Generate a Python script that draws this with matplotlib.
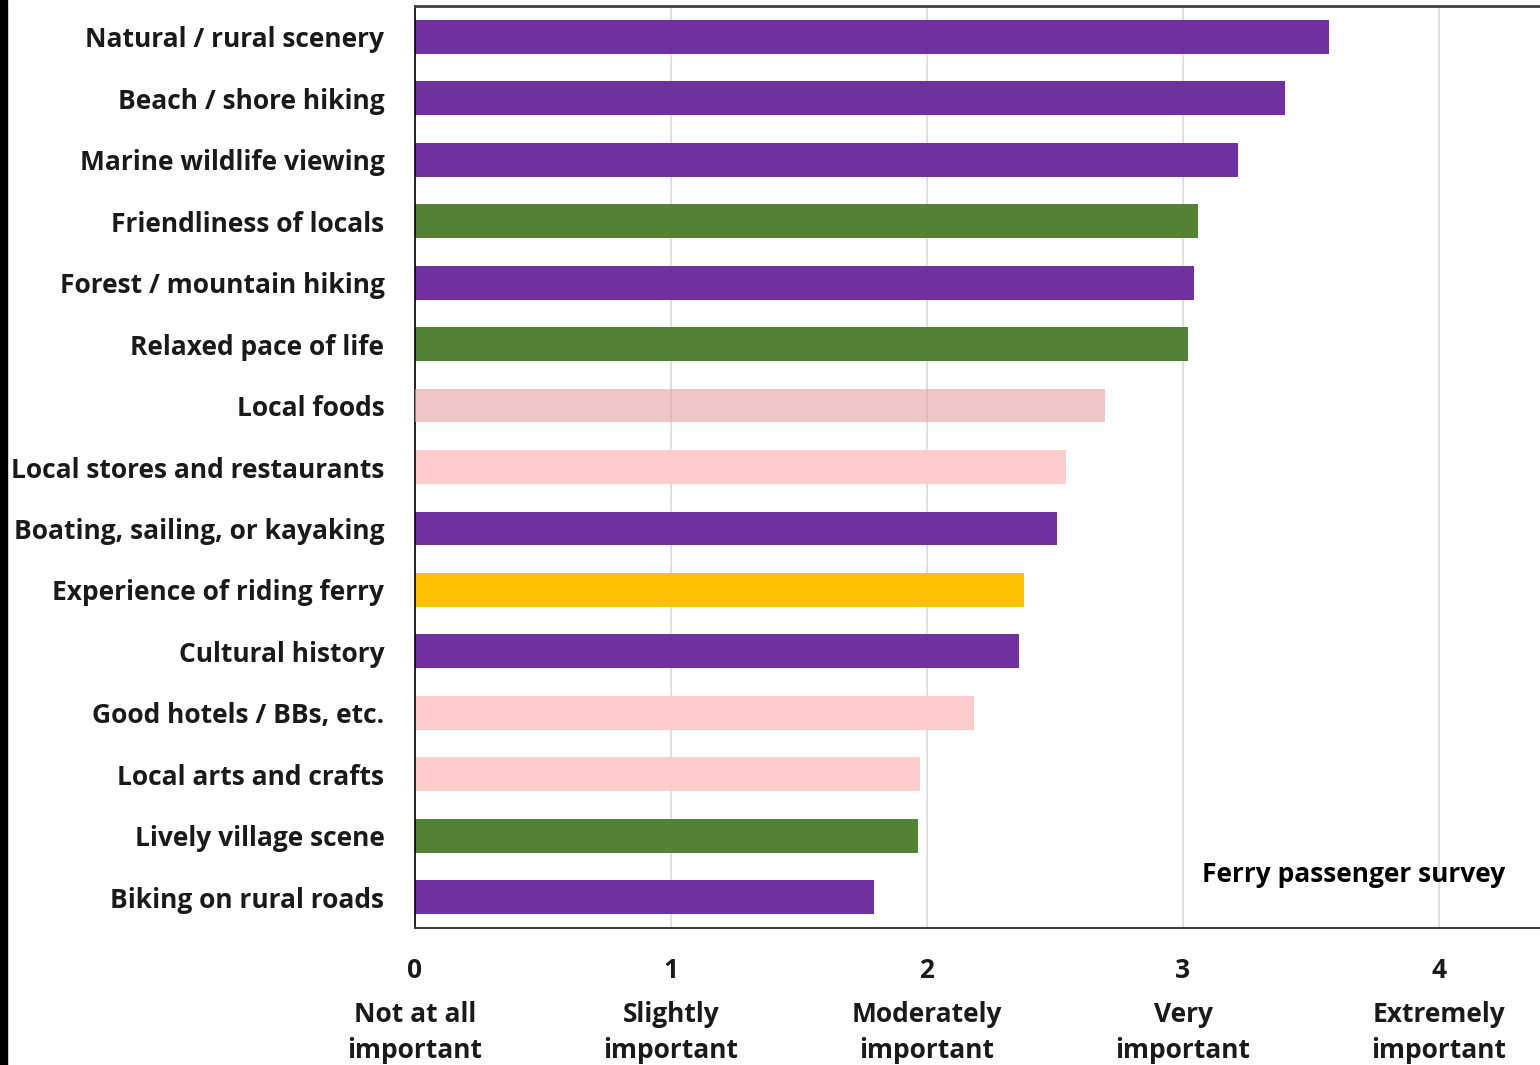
import matplotlib.pyplot as plt
from matplotlib.patches import Rectangle
from matplotlib.transforms import blended_transform_factory

categories = [
    "Natural / rural scenery", "Beach / shore hiking", "Marine wildlife viewing",
    "Friendliness of locals", "Forest / mountain hiking", "Relaxed pace of life",
    "Local foods", "Local stores and restaurants", "Boating, sailing, or kayaking",
    "Experience of riding ferry", "Cultural history", "Good hotels / BBs, etc.",
    "Local arts and crafts", "Lively village scene", "Biking on rural roads",
]
values = [3.57, 3.40, 3.215, 3.06, 3.043, 3.02, 2.695, 2.543, 2.508,
          2.379, 2.359, 2.184, 1.973, 1.965, 1.793]
groups = ["nature", "nature", "nature", "community", "nature", "community",
          "food", "service", "nature", "ferry", "nature", "service",
          "service", "community", "nature"]

tick_vals = [0, 1, 2, 3, 4]
tick_names = ["Not at all\nimportant", "Slightly\nimportant", "Moderately\nimportant",
              "Very\nimportant", "Extremely\nimportant"]

colors = {"nature": "#7030A0", "community": "#538135", "ferry": "#FFC000",
          "service": "#FFCCCC", "food": "#E8A6AB"}

plt.rcParams['font.family'] = ['Open Sans', 'DejaVu Sans']
FS = 19

fig = plt.figure(figsize=(15.4, 10.65), dpi=100)
ax = fig.add_axes([415 / 1540, 1 - 928 / 1065, 1 - 415 / 1540, (928 - 6) / 1065])

# dark strip at left edge of the picture
fig.patches.append(Rectangle((0, 0), 7 / 1540, 1, transform=fig.transFigure,
                             color="black", zorder=10))

ypos = list(range(len(categories)))
for y, v, g in zip(ypos, values, groups):
    alpha = 0.65 if g == "food" else 1.0
    ax.barh(y, v, height=0.55, color=colors[g], alpha=alpha, zorder=2 if g != "food" else 3)

ax.set_ylim(len(categories) - 0.5, -0.5)
ax.set_xlim(0, (1540 - 415) / 256)

ax.set_yticks(ypos)
ax.set_yticklabels(categories, fontsize=FS, fontweight="bold", color="#1a1a1a")
ax.tick_params(axis="y", length=0, pad=22)

ax.set_xticks(tick_vals)
ax.set_xticklabels([])
ax.tick_params(axis="x", length=0)
trans = blended_transform_factory(ax.transData, ax.transAxes)
for t, name in zip(tick_vals, tick_names):
    ax.text(t, -0.0456, str(t), transform=trans, ha="center", va="center",
            fontsize=FS, fontweight="bold", color="#1a1a1a")
    ax.text(t, -0.1135, name, transform=trans, ha="center", va="center",
            fontsize=FS, fontweight="bold", color="#1a1a1a", linespacing=1.45)

ax.grid(axis="x", color="#d9d9d9", linewidth=1.2, zorder=0)
ax.set_axisbelow(True)

ax.spines["right"].set_visible(False)
ax.spines["left"].set_color("black")
ax.spines["left"].set_linewidth(1.2)
ax.spines["bottom"].set_color("#404040")
ax.spines["bottom"].set_linewidth(1.5)
ax.spines["top"].set_color("#404040")
ax.spines["top"].set_linewidth(2)

ax.text(0.969, 0.0575, "Ferry passenger survey", transform=ax.transAxes,
        ha="right", va="center", fontsize=FS, fontweight="bold", color="black")

fig.savefig("out.png", dpi=100)
